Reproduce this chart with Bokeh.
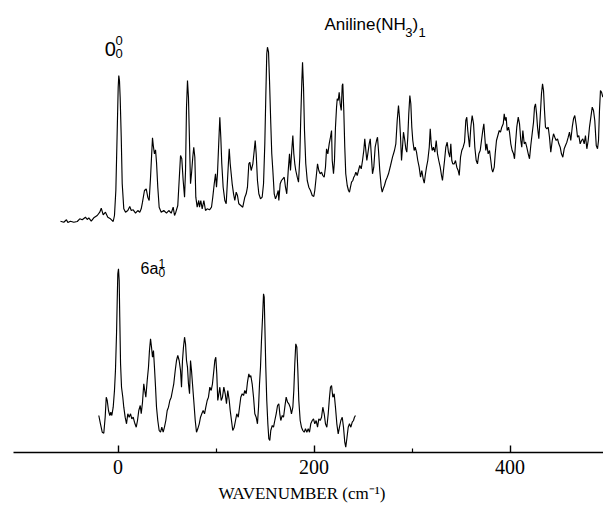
from bokeh.plotting import figure
from bokeh.models import Range1d, FixedTicker
from bokeh.embed import file_html
from bokeh.resources import INLINE
from bokeh.core.properties import value

# (wavenumber cm^-1, relative intensity)
top_spectrum = [
    (-58.7,1.3),(-55.3,0.3),(-52.6,2.7),(-51.2,0.0),(-48.5,1.3),(-45.1,0.3),(-41.6,1.0),(-39.0,3.7),(-36.5,2.7),(-33.2,5.3),
    (-31.4,3.0),(-29.8,4.7),(-27.3,1.3),(-24.7,4.7),(-21.2,7.0),(-18.6,10.3),(-17.1,14.3),(-15.1,7.7),(-12.8,10.3),(-10.4,5.3),
    (-7.7,3.7),(-4.9,1.0),(-3.6,7.0),(-2.2,32.0),(-0.8,92.0),(0.2,135.3),(0.8,147.0),(1.5,142.0),(2.2,125.3),(3.3,85.3),
    (4.3,38.7),(5.9,13.7),(7.7,10.3),(10.0,12.0),(12.0,16.0),(13.5,12.0),(15.5,12.7),(17.9,9.3),(20.2,12.0),(22.2,10.3),
    (23.7,13.7),(25.0,20.3),(27.0,32.0),(28.8,33.7),(30.4,25.3),(31.8,22.0),(33.2,45.3),(34.2,65.3),(35.2,84.7),(36.2,75.3),
    (37.2,68.7),(38.3,72.7),(39.3,60.3),(40.6,35.3),(42.0,15.3),(44.1,10.3),(46.7,12.0),(49.5,9.3),(51.8,12.0),(54.3,9.3),
    (56.3,15.3),(57.7,7.0),(59.0,10.3),(61.0,17.0),(62.4,42.0),(63.8,67.0),(65.1,63.7),(66.5,42.0),(67.9,25.3),(68.9,52.0),
    (69.9,115.3),(70.9,142.0),(71.9,125.3),(73.0,78.7),(74.0,38.7),(75.0,48.7),(76.3,65.3),(77.3,75.3),(78.4,65.3),(79.4,25.3),
    (80.8,15.3),(82.4,22.0),(83.2,15.3),(84.5,22.0),(85.9,13.7),(87.6,22.0),(89.3,12.0),(91.0,13.7),(93.4,12.7),(95.4,15.3),
    (96.7,25.3),(98.2,38.7),(99.5,48.7),(100.5,35.3),(101.5,48.7),(102.9,82.0),(103.9,105.3),(104.9,85.3),(105.9,58.7),(107.3,35.3),
    (109.0,22.0),(110.4,18.7),(111.7,42.0),(112.8,62.0),(113.5,73.7),(114.5,58.7),(115.5,48.7),(116.5,38.7),(117.9,28.7),(119.2,22.0),
    (120.6,30.3),(121.9,27.0),(123.3,18.7),(125.3,17.0),(127.3,15.3),(129.4,25.3),(130.8,28.7),(132.1,35.3),(133.5,58.7),(134.5,60.3),
    (135.9,52.0),(137.6,58.7),(139.0,72.0),(140.0,82.0),(141.0,68.7),(142.3,42.0),(143.7,28.7),(145.4,23.7),(147.1,25.3),(148.5,38.7),
    (149.8,78.7),(150.8,125.3),(151.8,168.7),(152.5,175.3),(153.6,170.3),(154.6,142.0),(155.9,98.7),(156.9,68.7),(158.0,52.0),(159.4,28.7),
    (160.7,23.7),(162.0,27.0),(163.5,32.0),(164.1,22.0),(165.5,38.7),(166.8,42.0),(168.2,43.7),(169.6,45.3),(170.9,35.3),(172.2,28.7),
    (173.7,52.0),(175.0,68.7),(176.0,52.0),(177.3,72.0),(178.4,87.0),(179.4,68.7),(180.4,58.7),(181.4,52.0),(182.9,45.3),(184.2,40.3),
    (185.5,65.3),(186.5,105.3),(187.6,142.0),(188.3,160.3),(189.3,135.3),(190.3,92.0),(191.6,58.7),(193.1,42.0),(194.7,35.3),(196.4,32.0),
    (198.2,27.0),(199.8,26.0),(200.8,32.0),(202.2,45.3),(203.6,58.7),(204.9,52.0),(206.3,48.7),(207.7,50.3),(209.0,47.0),(210.4,45.3),
    (211.7,55.3),(212.8,73.7),(214.1,68.7),(215.5,78.7),(216.8,85.3),(217.9,92.0),(218.6,62.0),(219.9,48.7),(220.9,62.0),(221.9,95.3),
    (223.0,115.3),(223.7,123.7),(224.7,122.0),(225.7,130.3),(226.7,118.7),(227.8,112.0),(228.8,137.0),(229.4,138.7),(230.4,112.0),(231.4,75.3),
    (232.4,48.7),(233.9,37.0),(235.2,32.0),(236.2,30.3),(237.2,35.3),(238.3,40.3),(239.6,42.0),(240.6,45.3),(241.6,47.0),(242.7,50.3),
    (244.1,47.0),(245.4,52.0),(246.7,57.0),(248.2,53.7),(249.5,62.0),(250.8,72.0),(251.8,83.7),(252.9,72.0),(253.9,62.0),(254.9,68.7),
    (256.3,78.7),(257.4,83.7),(258.4,68.7),(259.7,48.7),(261.0,55.3),(262.4,75.3),(263.8,82.0),(264.8,85.3),(265.8,72.0),(267.1,52.0),
    (268.6,35.3),(269.6,30.3),(270.6,33.7),(271.9,37.0),(273.3,42.0),(274.7,45.3),(276.0,48.7),(278.1,57.0),(280.1,65.3),(282.1,72.0),
    (283.5,78.7),(284.9,102.0),(286.2,117.0),(287.2,105.3),(288.3,85.3),(289.3,62.0),(290.3,75.3),(291.3,90.3),(292.4,83.7),(293.7,73.7),
    (294.7,70.3),(295.7,85.3),(296.7,108.7),(297.8,127.0),(298.8,118.7),(299.8,95.3),(300.8,82.0),(302.2,72.0),(303.3,75.3),(304.6,70.3),
    (305.9,62.0),(307.3,55.3),(308.7,45.3),(310.0,52.0),(311.4,43.7),(312.5,39.3),(313.5,47.0),(314.8,55.3),(316.1,62.0),(317.6,75.3),
    (318.6,93.7),(319.6,78.7),(320.6,72.0),(321.9,75.3),(323.3,70.3),(324.7,82.0),(326.0,68.7),(327.3,62.0),(328.8,55.3),(330.1,47.0),
    (331.1,42.0),(332.1,52.0),(333.2,62.0),(334.5,75.3),(335.9,80.3),(337.2,70.3),(338.6,65.3),(339.6,78.7),(340.6,62.0),(341.6,58.7),
    (343.1,58.7),(344.4,62.0),(345.7,55.3),(347.1,52.0),(348.2,47.0),(349.5,65.3),(350.8,72.0),(352.2,75.3),(353.6,80.3),(354.9,102.0),
    (355.9,105.3),(356.9,92.0),(358.7,75.3),(360.0,95.3),(361.4,107.0),(362.8,98.7),(364.1,75.3),(365.5,62.0),(366.8,58.7),(368.2,68.7),
    (369.6,72.0),(370.9,82.0),(372.2,92.0),(373.3,98.7),(374.3,85.3),(375.3,72.0),(376.3,78.7),(377.7,68.7),(379.1,72.0),(380.4,62.0),
    (381.4,53.7),(382.4,50.3),(383.9,55.3),(384.9,68.7),(386.2,82.0),(387.6,87.0),(389.0,92.0),(390.3,90.3),(391.6,95.3),(393.1,98.7),
    (394.1,108.7),(395.1,102.0),(396.1,105.3),(397.1,92.0),(398.5,95.3),(399.5,90.3),(400.8,78.7),(402.2,72.0),(403.6,68.7),(404.6,63.7),
    (405.6,78.7),(406.9,95.3),(408.4,105.3),(409.7,98.7),(411.0,82.0),(412.0,75.3),(413.1,92.0),(414.5,78.7),(415.8,80.3),(417.1,75.3),
    (418.6,68.7),(419.9,63.7),(421.2,77.0),(422.6,88.7),(424.0,100.3),(425.0,115.3),(426.0,118.7),(427.1,108.7),(428.1,95.3),(429.4,83.7),
    (430.8,105.3),(432.1,128.7),(433.2,138.7),(434.2,132.0),(435.2,112.0),(436.2,95.3),(437.6,93.7),(439.0,95.3),(440.3,85.3),(441.6,70.3),
    (443.1,82.0),(444.4,88.7),(445.7,85.3),(447.1,82.0),(448.5,83.7),(449.8,78.7),(451.2,75.3),(452.5,68.7),(453.9,65.3),(455.3,73.7),
    (456.6,77.0),(458.0,80.3),(459.4,85.3),(460.7,90.3),(462.0,82.0),(463.5,95.3),(464.8,103.7),(466.1,107.0),(467.6,97.0),(468.9,85.3),
    (470.2,87.0),(471.6,78.7),(473.0,82.0),(474.3,83.7),(475.7,78.7),(477.0,87.0),(478.4,73.7),(479.8,82.0),(481.1,95.3),(482.5,105.3),
    (483.9,115.3),(485.2,112.0),(486.5,102.0),(488.0,77.0),(489.3,73.7),(490.3,82.0),(491.3,112.0),(492.3,132.0),(493.4,130.3),(494.7,125.3),
]

bottom_spectrum = [
    (-19.6,32.0),(-17.9,23.7),(-16.1,15.3),(-14.5,14.3),(-13.1,30.3),(-12.0,50.3),(-11.0,47.0),(-9.7,37.0),(-8.4,32.0),(-7.3,35.3),
    (-6.3,32.0),(-4.9,40.3),(-3.6,57.0),(-2.6,77.0),(-1.5,113.7),(-0.8,147.0),(-0.2,173.7),(0.5,178.7),(1.2,167.0),(1.8,130.3),
    (2.6,83.7),(3.6,60.3),(4.9,50.3),(5.9,40.3),(7.3,30.3),(8.7,23.7),(10.0,33.7),(11.4,30.3),(12.8,33.7),(14.1,28.7),
    (15.5,30.3),(16.8,25.3),(18.6,20.3),(19.9,27.0),(21.2,37.0),(22.7,42.0),(23.7,33.7),(25.0,45.3),(26.3,63.7),(27.3,57.0),
    (28.4,50.3),(29.8,67.0),(31.1,80.3),(32.1,97.0),(33.2,108.7),(34.2,100.3),(35.2,90.3),(36.2,97.0),(37.2,80.3),(38.3,60.3),
    (39.3,40.3),(40.6,27.0),(42.0,17.0),(43.4,15.3),(44.7,20.3),(46.1,15.3),(47.4,20.3),(48.8,27.0),(50.2,37.0),(51.5,40.3),
    (52.9,47.0),(54.3,50.3),(55.6,57.0),(56.9,63.7),(58.4,77.0),(59.7,87.0),(61.0,92.0),(62.4,87.0),(63.8,77.0),(64.8,60.3),
    (65.8,87.0),(66.8,100.3),(67.9,110.3),(68.9,103.7),(69.9,87.0),(70.9,80.3),(71.9,63.7),(73.0,53.7),(74.0,87.0),(75.0,77.0),
    (76.0,63.7),(77.3,47.0),(78.8,27.0),(80.1,15.3),(81.4,18.7),(82.9,23.7),(84.2,30.3),(85.5,33.7),(86.9,37.0),(88.3,33.7),
    (89.6,40.3),(91.0,47.0),(92.3,50.3),(93.7,60.3),(95.1,57.0),(96.4,63.7),(97.8,77.0),(98.8,87.0),(99.8,90.3),(100.8,73.7),
    (101.8,47.0),(102.9,53.7),(103.9,60.3),(105.3,47.0),(106.6,50.3),(108.0,60.3),(109.4,53.7),(110.7,43.7),(112.0,57.0),(113.5,47.0),
    (114.5,37.0),(115.8,27.0),(117.1,17.0),(118.6,20.3),(119.9,27.0),(121.2,33.7),(122.7,30.3),(124.0,40.3),(125.3,50.3),(126.7,53.7),
    (128.1,52.0),(129.4,57.0),(130.8,53.7),(132.1,65.3),(133.5,73.7),(134.5,70.3),(135.5,72.0),(136.9,63.7),(138.3,50.3),(139.6,33.7),
    (141.0,30.3),(142.3,23.7),(143.4,40.3),(144.4,63.7),(145.4,80.3),(146.4,107.0),(147.5,130.3),(148.5,153.7),(149.2,150.3),(149.8,123.7),
    (150.8,80.3),(151.8,47.0),(152.9,23.7),(153.9,8.7),(154.9,7.0),(155.9,17.0),(157.4,22.0),(158.7,20.3),(160.0,27.0),(161.4,33.7),
    (162.8,42.0),(164.1,43.7),(165.1,33.7),(166.1,27.0),(167.6,32.0),(168.9,30.3),(170.2,40.3),(171.6,50.3),(173.0,45.3),(174.3,43.7),
    (175.7,40.3),(177.0,33.7),(178.4,40.3),(179.4,57.0),(180.4,83.7),(181.4,103.7),(182.5,100.3),(183.5,77.0),(184.5,47.0),(185.9,27.0),
    (187.2,20.3),(188.6,17.0),(190.0,15.3),(191.3,18.7),(192.7,15.3),(194.1,18.7),(195.4,15.3),(196.7,23.7),(198.2,27.0),(199.5,28.7),
    (200.8,23.7),(202.2,27.0),(203.6,20.3),(204.9,28.7),(206.3,27.0),(207.7,30.3),(209.0,40.3),(210.4,33.7),(211.7,23.7),(213.1,20.3),
    (214.5,33.7),(215.8,50.3),(216.8,60.3),(217.9,62.0),(219.2,50.3),(220.6,53.7),(221.9,40.3),(223.3,23.7),(224.7,13.7),(226.0,20.3),
    (227.4,27.0),(228.8,30.3),(230.1,20.3),(231.4,5.3),(232.4,0.3),(233.5,8.7),(234.9,20.3),(236.2,23.7),(237.6,20.3),(239.0,25.3),
    (240.3,27.0),(241.3,30.3),(242.3,32.0),
]

TOP_OFFSET = 230
BOTTOM_OFFSET = 5

major_ticks = [0, 200, 400]
minor_ticks = [100, 300]
x_label = "WAVENUMBER (cm\u207b\u00b9)"

top_x = [w for w, _ in top_spectrum]
top_y = [i + TOP_OFFSET for _, i in top_spectrum]
bot_x = [w for w, _ in bottom_spectrum]
bot_y = [i + BOTTOM_OFFSET for _, i in bottom_spectrum]

p = figure(width=603, height=506,
           x_range=Range1d(-119.9, 495.4), y_range=Range1d(0, 452),
           output_backend="svg", toolbar_location=None,
           y_axis_location=None,
           min_border_left=0, min_border_right=0, min_border_top=0, min_border_bottom=54)
p.grid.visible = False
p.outline_line_color = None
p.background_fill_color = "white"
p.border_fill_color = "white"

p.line(top_x, top_y, line_color="black", line_width=1.15)
p.line(bot_x, bot_y, line_color="black", line_width=1.15)

ax = p.xaxis[0]
ax.ticker = FixedTicker(ticks=major_ticks, minor_ticks=minor_ticks)
ax.bounds = (-106.6, 495.4)
ax.axis_line_color = "black"
ax.axis_line_width = 1.4
ax.major_tick_in = 7
ax.major_tick_out = 0
ax.minor_tick_in = 4
ax.minor_tick_out = 0
ax.major_tick_line_width = 1.4
ax.minor_tick_line_width = 1.2
ax.major_tick_line_color = "black"
ax.minor_tick_line_color = "black"
ax.major_label_text_font = "Liberation Serif"
ax.major_label_text_font_size = "20px"
ax.major_label_text_color = "black"
ax.major_label_standoff = 7
ax.axis_label = x_label
ax.axis_label_text_font = "Liberation Serif"
ax.axis_label_text_font_size = "17px"
ax.axis_label_text_font_style = "normal"
ax.axis_label_text_color = "black"
ax.axis_label_standoff = 7

sans = value("Liberation Sans")

def txt(x, y, s, size):
    p.text(x=[x], y=[y], text=[s], text_font=sans, text_font_size=size,
           text_color="black", text_align="left", text_baseline="middle")

# Aniline(NH3)1
txt(210.7, 428, "Aniline(NH", "17px")
txt(293.0, 420, "3", "13px")
txt(300.5, 428, ")", "17px")
txt(306.5, 420, "1", "13px")
# 0_0^0
txt(-13.6, 404, "0", "20px")
txt(-2.6, 412, "0", "13px")
txt(-2.6, 399.5, "0", "13px")
# 6a_0^1
txt(23.0, 183.6, "6a", "16px")
txt(41.3, 189, "1", "12px")
txt(41.3, 180, "0", "12px")

open("out.html", "w").write(file_html(p, INLINE))
